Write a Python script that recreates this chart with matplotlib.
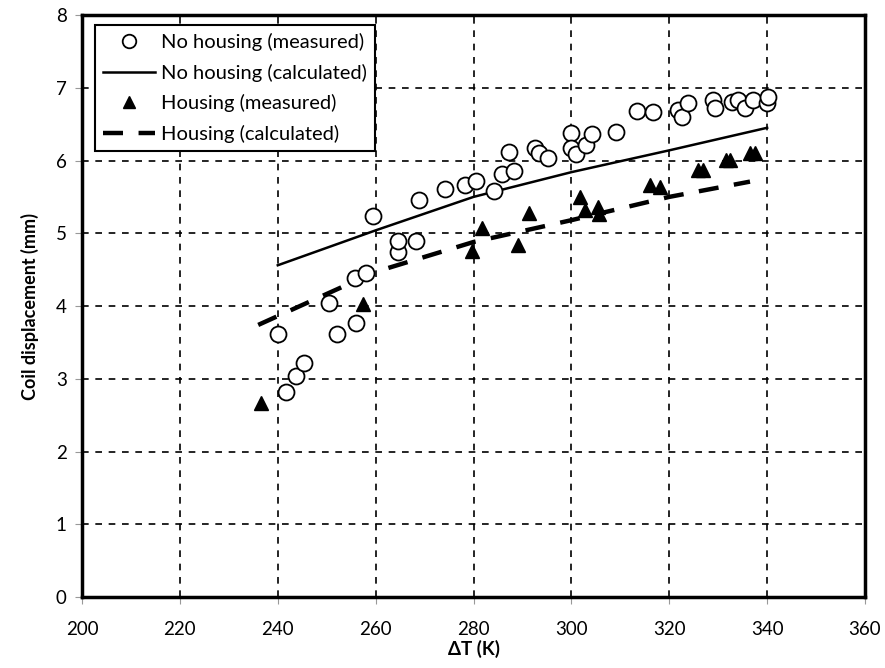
import matplotlib
matplotlib.use("Agg")
import matplotlib.pyplot as plt

plt.rcParams['font.family'] = ['Lato', 'DejaVu Sans']

# No housing (measured)
nh_x = [240.0, 241.7, 243.7, 245.4, 250.5, 252.1, 256.0, 255.8, 258.0, 259.5,
        264.6, 264.6, 268.2, 268.9, 274.2, 278.3, 280.5, 284.2, 285.8, 287.2,
        288.3, 292.6, 293.4, 295.2, 299.9, 299.9, 300.9, 303.0, 304.2, 309.1,
        313.4, 316.7, 321.8, 322.6, 323.8, 328.9, 329.3, 332.8, 334.0, 335.5,
        337.1, 340.0, 340.2]
nh_y = [3.61, 2.82, 3.04, 3.22, 4.04, 3.61, 3.77, 4.38, 4.45, 5.24,
        4.74, 4.89, 4.89, 5.46, 5.61, 5.66, 5.72, 5.58, 5.81, 6.12,
        5.86, 6.17, 6.10, 6.03, 6.38, 6.17, 6.09, 6.21, 6.36, 6.39,
        6.68, 6.67, 6.69, 6.60, 6.79, 6.83, 6.72, 6.80, 6.83, 6.72,
        6.83, 6.79, 6.87]

# No housing (calculated)
nhc_x = [240, 260, 280, 300, 320, 340]
nhc_y = [4.56, 5.04, 5.50, 5.84, 6.14, 6.45]

# Housing (measured)
h_x = [236.6, 257.4, 279.7, 281.7, 289.1, 291.3, 301.8, 302.8, 305.4, 305.6,
       316.1, 318.1, 325.9, 326.9, 331.6, 332.4, 336.5, 337.5]
h_y = [2.67, 4.03, 4.76, 5.07, 4.84, 5.28, 5.50, 5.32, 5.36, 5.26,
       5.66, 5.64, 5.87, 5.87, 6.01, 6.01, 6.10, 6.10]

# Housing (calculated)
hc_x = [236.0, 260, 280, 300, 320, 336.5]
hc_y = [3.74, 4.47, 4.88, 5.18, 5.50, 5.71]

fig = plt.figure(figsize=(8.85, 6.68), dpi=100)
ax = fig.add_axes([0.0927, 0.1063, 0.8847, 0.8712])

ax.plot(nh_x, nh_y, 'o', mfc='white', mec='black', mew=1.3, ms=11.5,
        label='No housing (measured)', zorder=4)
ax.plot(nhc_x, nhc_y, '-', color='black', lw=1.8,
        label='No housing (calculated)', zorder=3)
ax.plot(h_x, h_y, '^', color='black', ms=10,
        label='Housing (measured)', zorder=5)
ax.plot(hc_x, hc_y, color='black', lw=3.2, dashes=(4.5, 3.5),
        label='Housing (calculated)', zorder=3)

ax.set_xlim(200, 360)
ax.set_ylim(0, 8)
ax.set_xticks(range(200, 361, 20))
ax.set_yticks(range(0, 9, 1))
ax.grid(True, color='black', linestyle=(0, (4, 4)), lw=1.2)
ax.set_axisbelow(True)
for s in ax.spines.values():
    s.set_linewidth(2.5)
    s.set_color('black')
ax.tick_params(axis='both', direction='out', length=5, color='#999999',
               labelsize=13.5, pad=6)
ax.tick_params(axis='x', pad=12)

ax.set_xlabel('ΔT (K)', fontsize=13.5, fontweight='bold', labelpad=2)
ax.set_ylabel('Coil displacement (mm)', fontsize=13, fontweight='bold', labelpad=12)

leg = ax.legend(loc='upper left', bbox_to_anchor=(0.0166, 0.983), fontsize=14.5,
                frameon=True, fancybox=False, edgecolor='black',
                handlelength=2.6, handletextpad=0.3, borderpad=0.4,
                labelspacing=0.62, borderaxespad=0, markerscale=0.85)
leg.get_frame().set_linewidth(1.5)
leg.get_frame().set_alpha(1)

fig.savefig('out.png', dpi=100)
